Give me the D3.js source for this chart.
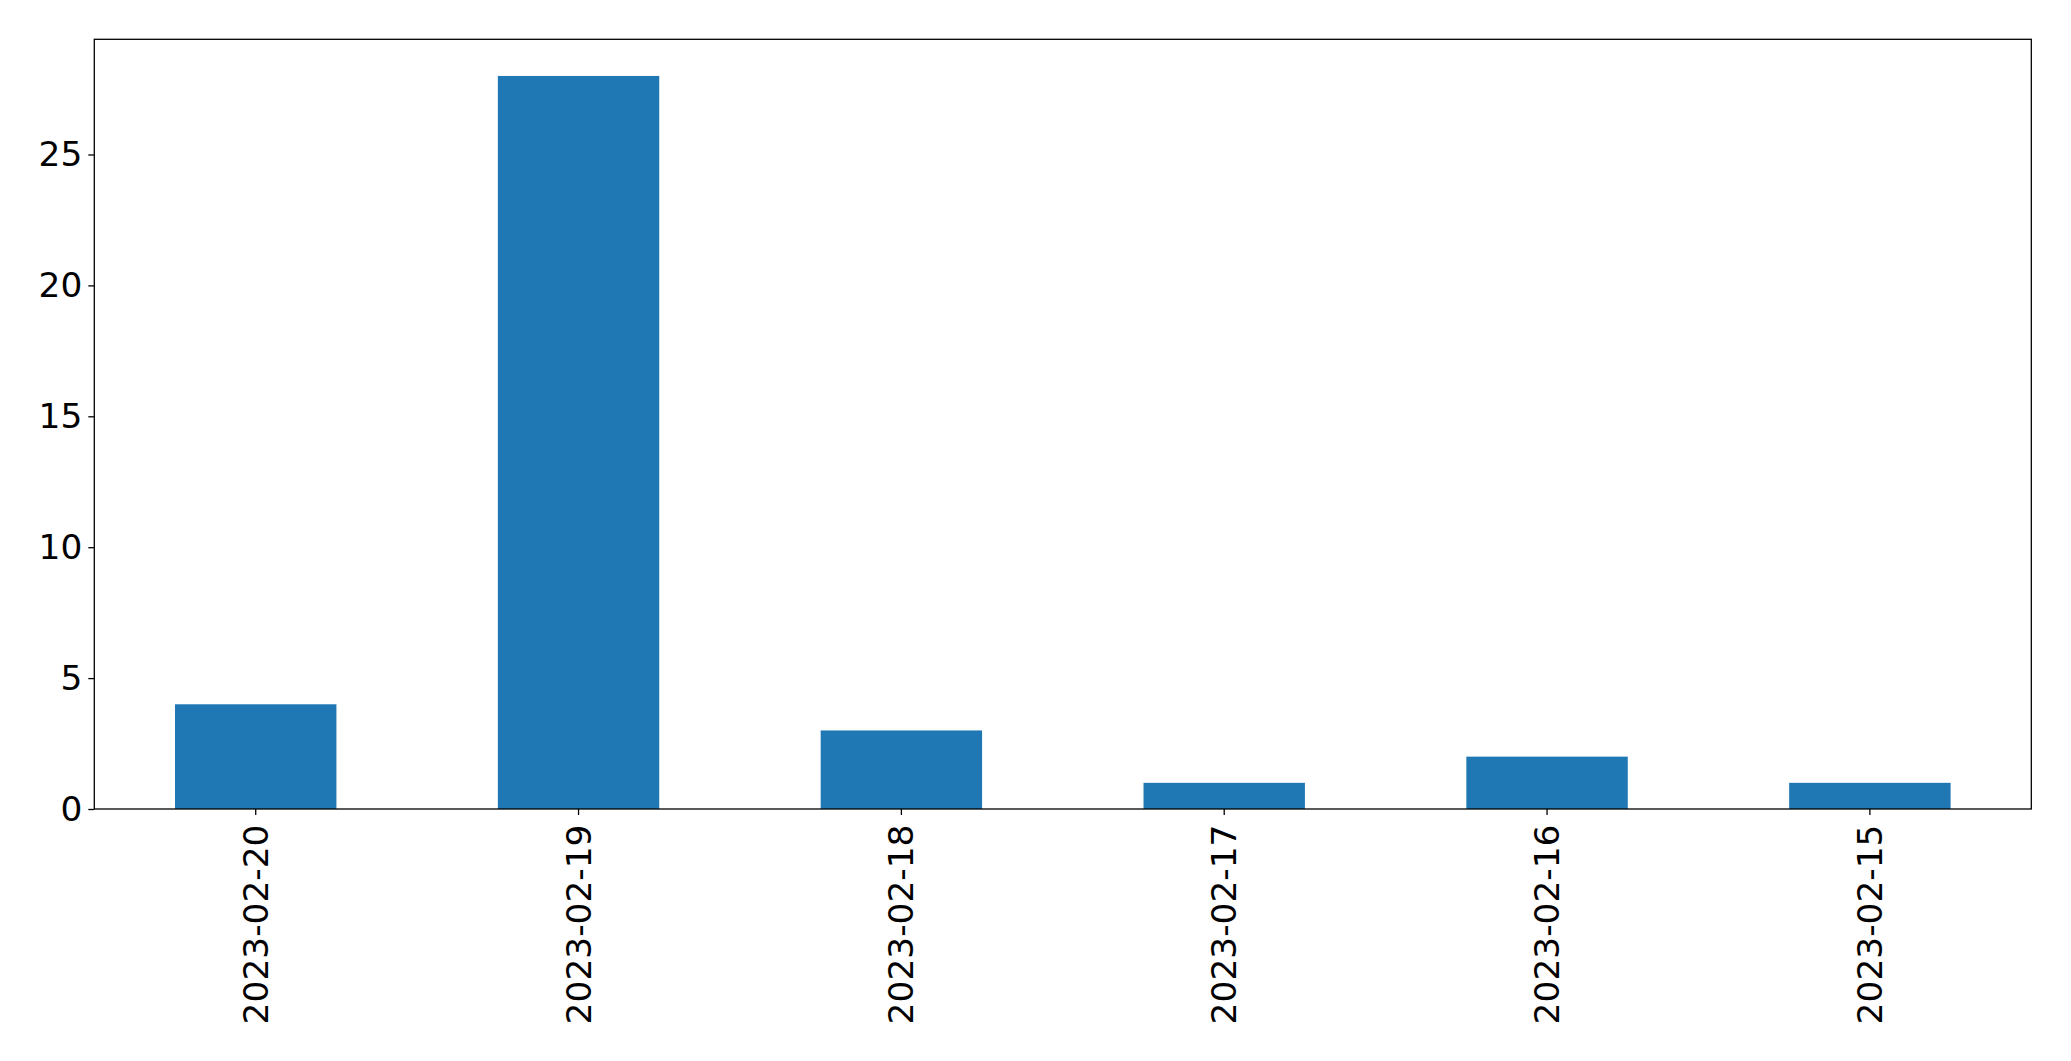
<!DOCTYPE html>
<html><head><meta charset="utf-8">
<script src="https://cdn.jsdelivr.net/npm/d3@7"></script>
<style>body{margin:0;background:#fff}svg{display:block}text{font-family:"DejaVu Sans",sans-serif}</style>
</head><body>
<script>
const categories = ["2023-02-20","2023-02-19","2023-02-18","2023-02-17","2023-02-16","2023-02-15"];
const values = [4, 28, 3, 1, 2, 1];
const yTicks = [0, 5, 10, 15, 20, 25];

const W = 2071, H = 1061;
const m = {left: 94.3, right: 2031.3, top: 39.3, bottom: 809};
const svg = d3.select("body").append("svg").attr("width", W).attr("height", H);

const x = d3.scaleBand().domain(categories).range([m.left, m.right]).paddingInner(0.5).paddingOuter(0.25);
const y = d3.scaleLinear().domain([0, 29.4]).range([m.bottom, m.top]);

svg.append("g").selectAll("rect").data(values).join("rect")
  .attr("x", (d, i) => x(categories[i]))
  .attr("width", x.bandwidth())
  .attr("y", d => y(d))
  .attr("height", d => y(0) - y(d))
  .attr("fill", "#1f77b4");

const fs = 34.4;
const ya = svg.append("g").attr("transform", `translate(${m.left},0)`)
  .call(d3.axisLeft(y).tickValues(yTicks).tickSize(6).tickPadding(6).tickFormat(d3.format("d")));
ya.select(".domain").remove();
ya.selectAll("text").attr("font-size", fs).attr("font-family", "DejaVu Sans").attr("fill", "#000");
ya.selectAll("line").attr("stroke", "#000").attr("stroke-width", 1.3);

const xa = svg.append("g").attr("transform", `translate(0,${m.bottom})`)
  .call(d3.axisBottom(x).tickSize(6).tickSizeOuter(0));
xa.select(".domain").remove();
xa.selectAll("line").attr("stroke", "#000").attr("stroke-width", 1.3);
xa.selectAll("text")
  .attr("font-size", fs).attr("font-family", "DejaVu Sans").attr("fill", "#000")
  .attr("transform", "rotate(-90)")
  .attr("x", -15.5).attr("y", 0).attr("dy", "0.35em")
  .attr("text-anchor", "end");

svg.append("rect").attr("x", m.left).attr("y", m.top)
  .attr("width", m.right - m.left).attr("height", m.bottom - m.top)
  .attr("fill", "none").attr("stroke", "#000").attr("stroke-width", 1.3);
</script>
</body></html>
